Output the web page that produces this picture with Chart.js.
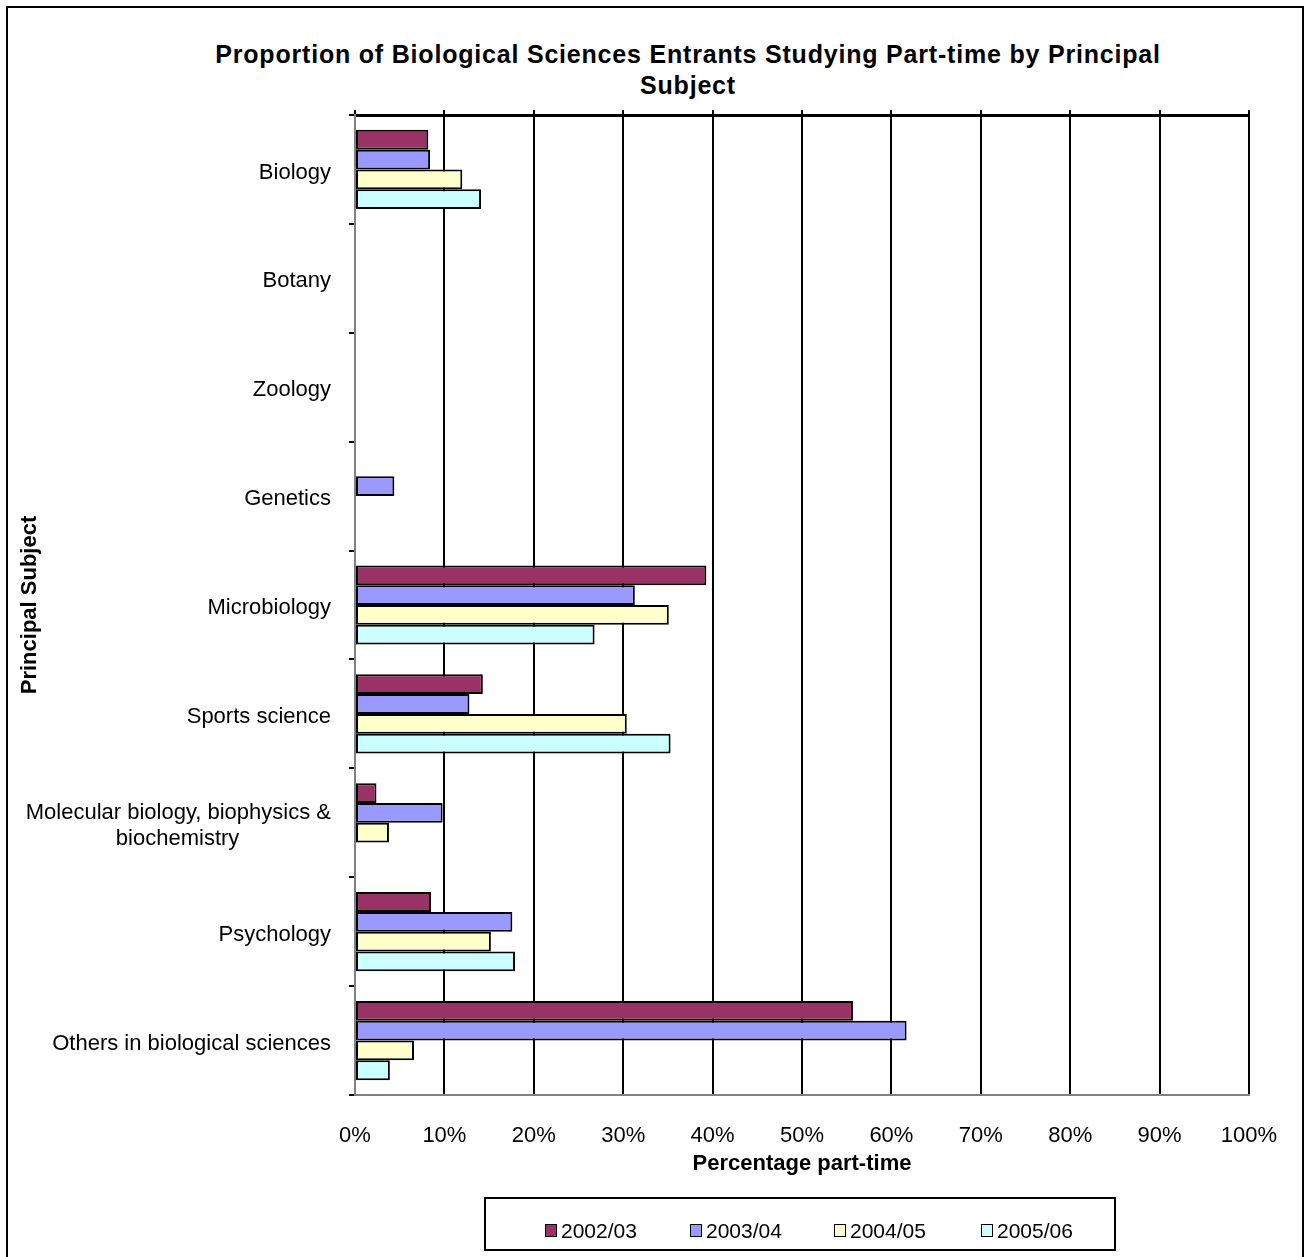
<!DOCTYPE html>
<html>
<head>
<meta charset="utf-8">
<script src="https://cdn.jsdelivr.net/npm/chart.js@4.4.1/dist/chart.umd.min.js"></script>
<style>
  html, body { margin: 0; padding: 0; background: #fff; overflow: hidden; }
  body { width: 1308px; height: 1257px; position: relative; font-family: "Liberation Sans", Arial, sans-serif; }
  #frame { position: absolute; left: 6px; top: 6px; width: 1298px; height: 1280px; border: 2px solid #000; box-sizing: border-box; }
  #chart { position: absolute; left: 0; top: 0; }
  #title { position: absolute; left: 138px; top: 39px; width: 1100px; text-align: center; font-weight: bold; font-size: 25px; letter-spacing: 0.8px; line-height: 31px; color: #000; }
  #legend { position: absolute; left: 484px; top: 1197px; width: 632px; height: 54px; border: 2px solid #000; box-sizing: border-box; }
  .item { position: absolute; top: 20px; font-size: 21px; line-height: 24px; color: #000; white-space: nowrap; }
  .swatch { display: inline-block; width: 10px; height: 11px; border: 1px solid #000; margin-right: 4px; vertical-align: 1px; }
</style>
</head>
<body>
<div id="frame"></div>
<div id="title">Proportion of Biological Sciences Entrants Studying Part-time by Principal<br>Subject</div>
<canvas id="chart" width="1308" height="1257"></canvas>
<div id="legend"></div>
<script>
const FONT = '"Liberation Sans", Arial, sans-serif';

// categories and series (percent part-time)
const subjects = ['Biology', 'Botany', 'Zoology', 'Genetics', 'Microbiology', 'Sports science',
  ['Molecular biology, biophysics &', 'biochemistry'], 'Psychology', 'Others in biological sciences'];
const years = ['2002/03', '2003/04', '2004/05', '2005/06'];
const pt0203 = [8.2, null, null, null, 39.3, 14.3, 2.4, 8.5, 55.7];
const pt0304 = [8.4, null, null, 4.4, 31.3, 12.8, 9.8, 17.6, 61.7];
const pt0405 = [12.0, null, null, null, 35.1, 30.4, 3.8, 15.2, 6.6];
const pt0506 = [14.1, null, null, null, 26.8, 35.3, null, 17.9, 3.9];
const xTicks = [0, 10, 20, 30, 40, 50, 60, 70, 80, 90, 100];
const colors = ['#993366', '#9999FF', '#FFFFCC', '#CCFFFF'];

const series = [pt0203, pt0304, pt0405, pt0506];

// pad shorter lines of a multi-line label so they look centred under the first line
function centerLines(lines, font) {
  const c = document.createElement('canvas').getContext('2d');
  c.font = font;
  const widths = lines.map(l => c.measureText(l).width);
  const maxW = Math.max(...widths);
  const sp = c.measureText('\u00A0').width;
  return lines.map((l, i) => l + '\u00A0'.repeat(Math.round((maxW - widths[i]) / 2 / sp)));
}
const labels = subjects.map(s => Array.isArray(s) ? centerLines(s, '22px ' + FONT) : s);

const chart = new Chart(document.getElementById('chart'), {
  type: 'bar',
  data: {
    labels: labels,
    datasets: years.map((y, i) => ({
      label: y,
      data: series[i],
      backgroundColor: colors[i],
      borderColor: '#000',
      borderWidth: 2,
      borderSkipped: false,
      categoryPercentage: 0.727,
      barPercentage: 1
    }))
  },
  options: {
    indexAxis: 'y',
    responsive: false,
    animation: false,
    layout: { padding: { left: 8, right: 59, top: 0, bottom: 80 } },
    plugins: { legend: { display: false }, title: { display: false }, tooltip: { enabled: false } },
    scales: {
      x: {
        type: 'linear', position: 'bottom', min: 0, max: 100,
        afterBuildTicks: s => { s.ticks = xTicks.map(v => ({ value: v })); },
        ticks: { callback: v => v + '%', color: '#000', font: { family: FONT, size: 22 }, padding: 28, maxRotation: 0 },
        grid: { color: c => (c.tick && c.tick.value === 0) ? '#808080' : '#000', lineWidth: 2, drawTicks: false },
        border: { color: '#808080', width: 2 },
        title: { display: true, text: 'Percentage part-time', color: '#000', font: { family: FONT, size: 22, weight: 'bold' }, padding: 0 },
        afterFit: s => { s.height = 82; }
      },
      x2: {
        type: 'linear', position: 'top', min: 0, max: 100,
        afterBuildTicks: s => { s.ticks = xTicks.map(v => ({ value: v })); },
        ticks: { display: false },
        grid: { drawOnChartArea: false, color: '#000', lineWidth: 2, tickLength: 5 },
        border: { color: '#000', width: 3 },
        afterFit: s => { s.height = 115; }
      },
      y: {
        ticks: { color: '#000', font: { family: FONT, size: 22 }, padding: 18, labelOffset: 3 },
        grid: { drawOnChartArea: false, color: '#000', lineWidth: 2, tickLength: 6, offset: true },
        border: { color: '#808080', width: 2 },
        title: { display: true, text: 'Principal Subject', color: '#000', font: { family: FONT, size: 22, weight: 'bold' }, padding: { top: 9, bottom: 0 } },
        afterFit: s => { s.width = 347; }
      }
    }
  }
});

// legend box under the plot
const legend = document.getElementById('legend');
const itemLeft = [59, 204, 348, 495];
chart.data.datasets.forEach((ds, i) => {
  const item = document.createElement('div');
  item.className = 'item';
  item.style.left = itemLeft[i] + 'px';
  item.innerHTML = `<span class="swatch" style="background:${ds.backgroundColor}"></span>${ds.label}`;
  legend.appendChild(item);
});
</script>
</body>
</html>
